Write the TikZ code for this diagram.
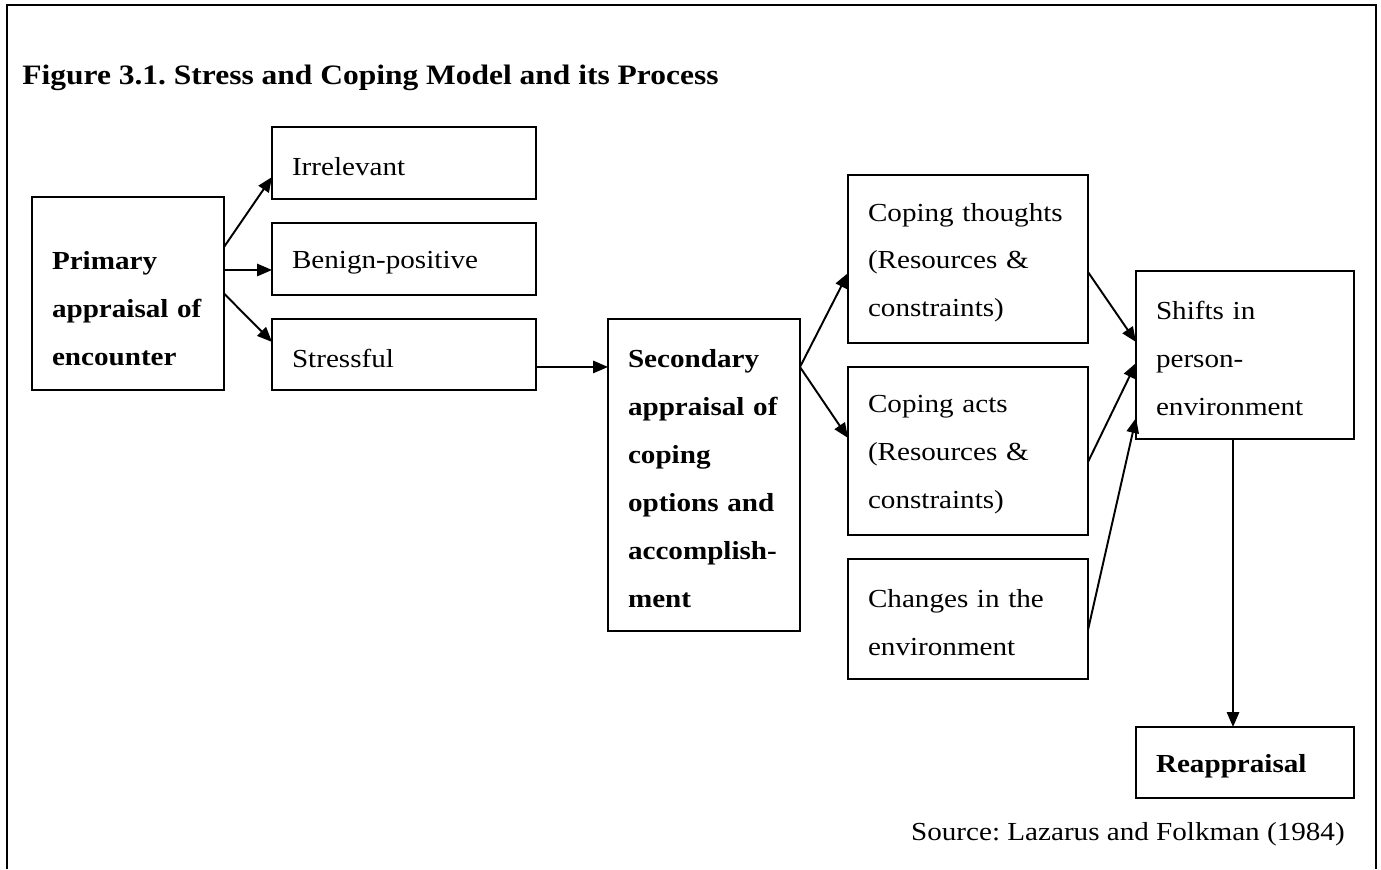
\documentclass[tikz,border=0pt]{standalone}
\usepackage{fontspec}
\setmainfont{Liberation Serif}[FakeStretch=1.12]
\usepackage{xcolor}
\usepackage{tikz}
\usetikzlibrary{positioning, arrows.meta}
\frenchspacing

\begin{document}
\begin{tikzpicture}[x=0.02cm, y=-0.02cm,
    stagebox/.style={draw, line width=0.85pt, outer sep=0pt, inner xsep=0.4cm, inner ysep=0pt,
          text height=14.5pt, align=left, font=\fontsize{14.8pt}{27.3pt}\selectfont},
    keybox/.style={stagebox, font=\fontsize{14.8pt}{27.3pt}\selectfont\bfseries},
    flow/.style={-{Triangle[length=8.5pt, width=7pt]}, line width=1.1pt}]
    \useasboundingbox (0,0) rectangle (1381,869);

    % open frame, its bottom edge runs off the page
    \draw[line width=1.15pt] (7,869) -- (7,5) -- (1376,5) -- (1376,869);

    \node[anchor=base west, inner sep=0pt, font=\fontsize{16pt}{20pt}\selectfont\bfseries] (title) at (22,84)
      {Figure 3.1. Stress and Coping Model and its Process};

    % primary appraisal and its three outcomes
    \node[keybox, text width=3.04cm, minimum height=3.86cm, text height=27pt] (primary) at (128,293.5)
      {Primary\\appraisal of\\encounter};
    \node[stagebox, text width=4.48cm, minimum height=1.44cm] (irrelevant) at (404,163) {Irrelevant};
    \node[stagebox, text width=4.48cm, minimum height=1.44cm, below=0.48cm of irrelevant] (benign) {Benign-positive};
    \node[stagebox, text width=4.48cm, minimum height=1.42cm, below=0.48cm of benign] (stressful) {Stressful};

    \node[keybox, text width=3.04cm, minimum height=6.24cm] (secondary) at (704,475)
      {Secondary\\appraisal of\\coping\\options and\\accomplish-\\ment};

    % coping column
    \node[stagebox, text width=4cm, minimum height=3.36cm] (thoughts) at (968,259)
      {Coping thoughts\\(Resources \&\\constraints)};
    \node[stagebox, text width=4cm, minimum height=3.36cm, below=0.48cm of thoughts] (acts)
      {Coping acts\\(Resources \&\\constraints)};
    \node[stagebox, text width=4cm, minimum height=2.4cm, below=0.48cm of acts] (changes)
      {Changes in the\\environment};

    \node[stagebox, text width=3.56cm, minimum height=3.36cm] (shifts) at (1245,355)
      {Shifts in\\person-\\environment};
    \node[keybox, text width=3.56cm, minimum height=1.42cm] (reappraisal) at (1245,762.5) {Reappraisal};

    \node[anchor=base east, inner sep=0pt, font=\fontsize{14.8pt}{18pt}\selectfont] (source) at (1345,840)
      {Source: Lazarus and Folkman (1984)};

    % arrows
    \draw[flow] ([yshift=0.93cm]primary.east) -- ([yshift=-0.28cm]irrelevant.west);
    \draw[flow] ([yshift=0.47cm]primary.east) -- ([yshift=-0.22cm]benign.west);
    \draw[flow] (primary.east) -- ([yshift=0.25cm]stressful.west);
    \coordinate (s) at ([yshift=-0.25cm]stressful.east);
    \draw[flow] (s) -- (s -| secondary.west);
    \coordinate (fork) at ([yshift=2.16cm]secondary.east);
    \draw[flow] (fork) -- ([yshift=-0.28cm]thoughts.west);
    \draw[flow] (fork) -- ([yshift=0.26cm]acts.west);
    \draw[flow] ([yshift=-0.26cm]thoughts.east) -- ([yshift=0.26cm]shifts.west);
    \draw[flow] ([yshift=-0.22cm]acts.east) -- ([yshift=-0.16cm]shifts.west);
    \draw[flow] ([yshift=-0.22cm]changes.east) -- ([yshift=-1.26cm]shifts.west);
    \draw[flow] ([xshift=-0.24cm]shifts.south) -- ([xshift=-0.24cm]reappraisal.north);
\end{tikzpicture}
\end{document}
